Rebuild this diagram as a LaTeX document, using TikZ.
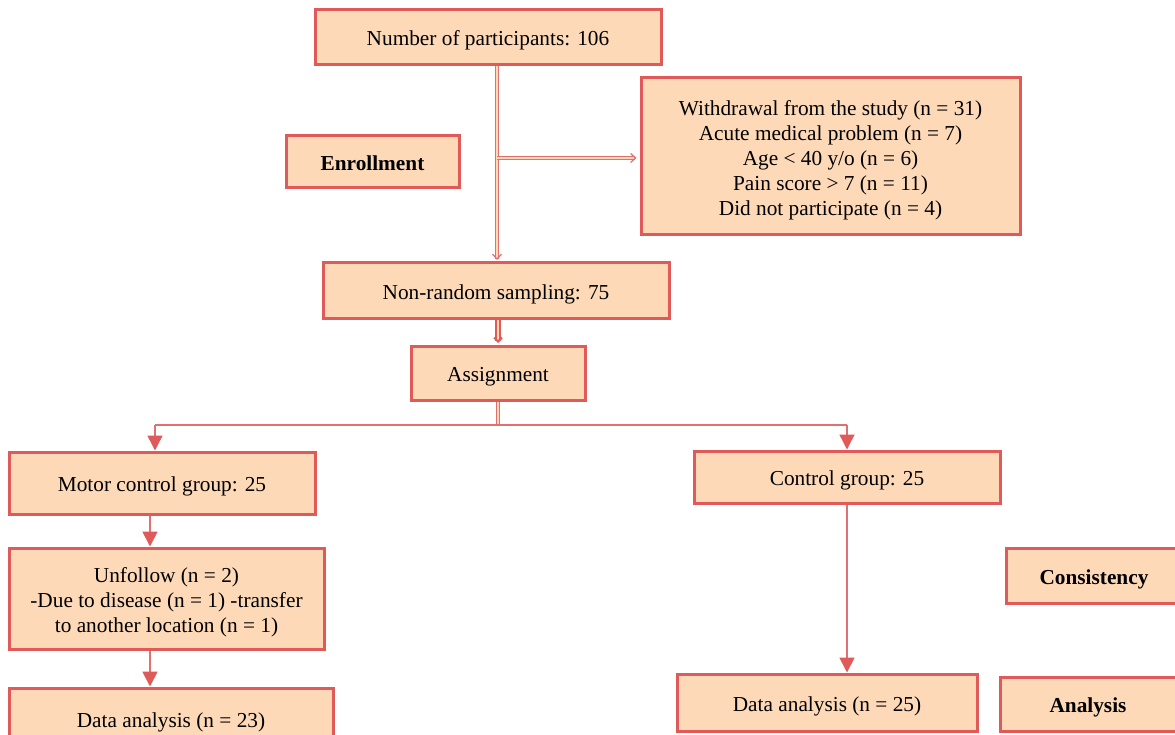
\documentclass[tikz,border=0pt]{standalone}
\usepackage{fontspec}
\setmainfont{Liberation Serif}
\usetikzlibrary{arrows.meta,calc}
\definecolor{boxfill}{HTML}{FDD9B8}
\definecolor{boxline}{HTML}{E05A5A}
\definecolor{linkline}{HTML}{E27070}
\tikzset{
  fbox/.style={draw=boxline, line width=3pt, fill=boxfill, inner sep=0pt, align=center,
    font=\fontsize{21.3}{25}\selectfont},
  bbox/.style={fbox, font=\fontsize{21.3}{25}\selectfont\bfseries},
  dbl/.style={draw=linkline, line width=1.2pt, double=boxfill, double distance=2.2pt},
  dblthick/.style={draw=boxline, line width=2pt, double=boxfill, double distance=1.4pt},
  sgl/.style={draw=linkline, line width=1.8pt},
  tip/.style={-{Triangle[width=15pt,length=15pt,fill=boxline,color=boxline]}},
}
\newcommand{\lowstrut}{\rule[-5pt]{0pt}{27pt}}
\begin{document}
\begin{tikzpicture}[x=1pt,y=-1pt]
\path[use as bounding box] (0,0) rectangle (1175,735);
\clip (0,0) rectangle (1175,735);
\fill[white] (0,0) rectangle (1175,735);
\node[fbox, minimum width=346pt, minimum height=55pt] (n106) at (488,37.5) {\lowstrut Number of participants: 106};
\node[fbox, minimum width=379pt, minimum height=157pt] (withdraw) at (830.5,156.5)
  {\lowstrut Withdrawal from the study (n = 31)\\Acute medical problem (n = 7)\\Age < 40 y/o (n = 6)\\Pain score > 7 (n = 11)\\Did not participate (n = 4)};
\node[bbox, minimum width=173pt, minimum height=52pt] (enroll) at (372.5,162) {\lowstrut Enrollment};
\node[fbox, minimum width=346pt, minimum height=55pt] (nonrand) at (496,290.5) {\lowstrut Non-random sampling: 75};
\node[fbox, minimum width=174pt, minimum height=54pt] (assign) at (498,373) {\lowstrut Assignment};
\node[fbox, minimum width=306pt, minimum height=62pt] (motor) at (162,483) {\lowstrut Motor control group: 25};
\node[fbox, minimum width=306pt, minimum height=52pt] (ctrl) at (847,477) {\lowstrut Control group: 25};
\node[fbox, minimum width=315pt, minimum height=101pt] (unfollow) at (166.5,598.5)
  {\lowstrut Unfollow (n = 2)\\-Due to disease (n = 1) -transfer\\to another location (n = 1)};
\node[fbox, minimum width=324pt, minimum height=62pt] (da23) at (171,719) {\lowstrut Data analysis (n = 23)};
\node[bbox, minimum width=176pt, minimum height=55pt] (consist) at (1094,575.5) {\lowstrut Consistency};
\node[fbox, minimum width=300pt, minimum height=57pt] (da25) at (827,702.5) {\lowstrut Data analysis (n = 25)};
\node[bbox, minimum width=176pt, minimum height=54pt] (analysis) at (1088,704) {\lowstrut Analysis};
% double arrows at top
\coordinate (vx) at (497,0);
\coordinate (hy) at (0,158);
\draw[dbl, -{Straight Barb[length=5pt,width=9pt]}] (n106.south -| vx) -- ($(nonrand.north -| vx)+(0,-1.5)$);
\draw[dbl, -{Straight Barb[length=5pt,width=9pt]}] (vx |- hy) -- ($(withdraw.west |- hy)+(-3,0)$);
% nonrand -> assign
\coordinate (ax) at (498,0);
\draw[dblthick, -{Straight Barb[length=4pt,width=8pt]}] (nonrand.south -| ax) -- ($(assign.north -| ax)+(0,-1.5)$);
% split
\coordinate (sy) at (0,425);
\coordinate (lx) at (155,0);
\coordinate (rx) at (847,0);
\draw[dbl, line width=0.8pt, double distance=1.6pt] (assign.south -| ax) -- (ax |- sy);
\draw[sgl, line width=1.4pt] (lx |- sy) -- (rx |- sy);
\draw[sgl, line width=1.4pt, tip] (lx |- sy) -- (motor.north -| lx);
\draw[sgl, line width=1.4pt, tip] (rx |- sy) -- (ctrl.north -| rx);
% left column
\coordinate (mx) at (150,0);
\draw[sgl, tip] (motor.south -| mx) -- (unfollow.north -| mx);
\draw[sgl, tip] (unfollow.south -| mx) -- (da23.north -| mx);
% right column
\draw[sgl, tip] (ctrl.south -| rx) -- (da25.north -| rx);
\end{tikzpicture}
\end{document}
